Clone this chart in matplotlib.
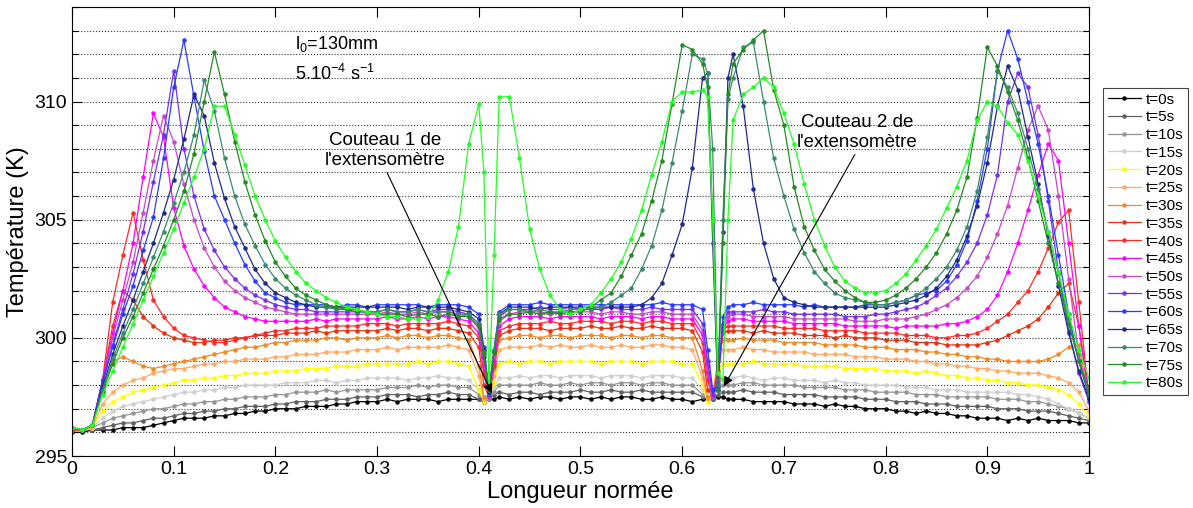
import numpy as np
import matplotlib
matplotlib.use('Agg')
import matplotlib.pyplot as plt
from matplotlib.ticker import MultipleLocator

plt.rcParams['font.family'] = ['Liberation Sans', 'DejaVu Sans']
plt.rcParams['mathtext.fontset'] = 'custom'
plt.rcParams['mathtext.rm'] = 'Liberation Sans'
plt.rcParams['mathtext.it'] = 'Liberation Sans:italic'
plt.rcParams['mathtext.default'] = 'regular'

# sampling positions along the normalised length (finer near the two knives)
x_norm = np.concatenate([
    np.round(np.arange(0, 40) * 0.01, 3),
    [0.400, 0.405, 0.410, 0.415],
    np.round(np.arange(42, 62) * 0.01, 3),
    [0.620, 0.625, 0.630, 0.635, 0.640, 0.645],
    np.round(np.arange(65, 101) * 0.01, 3),
])

labels = ['t=0s', 't=5s', 't=10s', 't=15s', 't=20s', 't=25s', 't=30s', 't=35s',
          't=40s', 't=45s', 't=50s', 't=55s', 't=60s', 't=65s', 't=70s',
          't=75s', 't=80s']
colors = ['#000000', '#606060', '#969696', '#cfcfcf', '#ffff00', '#ffaa66',
          '#f08a24', '#e63212', '#ff2a2a', '#ff00ff', '#c848c8', '#7a2ef0',
          '#2a3cff', '#1f2b8a', '#3c8a6c', '#268a26', '#22ff22']

t00 = [296.0, 296.0, 296.1, 296.1, 296.1, 296.2, 296.2, 296.2, 296.3, 296.4,
       296.5, 296.6, 296.6, 296.6, 296.7, 296.7, 296.8, 296.8, 296.9, 296.9,
       297.0, 297.0, 297.0, 297.1, 297.1, 297.1, 297.2, 297.2, 297.3, 297.3,
       297.3, 297.4, 297.3, 297.4, 297.4, 297.4, 297.3, 297.4, 297.4, 297.4,
       297.4, 297.3, 297.4, 297.4,
       297.5, 297.4, 297.5, 297.4, 297.5, 297.5, 297.4, 297.5, 297.5, 297.4,
       297.5, 297.4, 297.5, 297.5, 297.4, 297.4, 297.5, 297.4, 297.4, 297.3,
       297.4, 297.4, 297.4, 297.5, 297.5, 297.4,
       297.4, 297.4, 297.3, 297.3, 297.3, 297.3, 297.2, 297.2, 297.2, 297.1,
       297.2, 297.1, 297.1, 297.0, 297.0, 297.0, 296.9, 296.9, 296.8, 296.9,
       296.8, 296.8, 296.7, 296.7, 296.6, 296.6, 296.6, 296.5, 296.6, 296.5,
       296.6, 296.5, 296.5, 296.5, 296.4, 296.4]

t05 = [296.1, 296.1, 296.1, 296.2, 296.3, 296.4, 296.4, 296.5, 296.6, 296.6,
       296.7, 296.8, 296.8, 296.9, 296.9, 297.0, 297.0, 297.1, 297.1, 297.1,
       297.2, 297.2, 297.3, 297.3, 297.3, 297.4, 297.4, 297.4, 297.5, 297.5,
       297.5, 297.6, 297.6, 297.6, 297.5, 297.6, 297.6, 297.7, 297.6, 297.6,
       297.4, 297.3, 297.4, 297.6,
       297.7, 297.6, 297.7, 297.7, 297.6, 297.7, 297.7, 297.7, 297.8, 297.7,
       297.7, 297.8, 297.7, 297.7, 297.8, 297.7, 297.7, 297.7, 297.7, 297.7,
       297.5, 297.4, 297.4, 297.6, 297.7, 297.7,
       297.7, 297.8, 297.7, 297.7, 297.7, 297.6, 297.6, 297.6, 297.6, 297.5,
       297.5, 297.5, 297.5, 297.4, 297.4, 297.4, 297.3, 297.3, 297.3, 297.2,
       297.2, 297.2, 297.1, 297.1, 297.1, 297.1, 297.0, 297.0, 297.0, 296.9,
       296.9, 296.9, 296.8, 296.7, 296.6, 296.5]

t10 = [296.1, 296.1, 296.2, 296.4, 296.6, 296.7, 296.8, 296.9, 297.0, 297.0,
       297.1, 297.2, 297.2, 297.3, 297.3, 297.4, 297.4, 297.5, 297.5, 297.5,
       297.6, 297.6, 297.7, 297.7, 297.7, 297.8, 297.7, 297.8, 297.8, 297.8,
       297.8, 297.9, 297.9, 297.9, 298.0, 297.9, 298.0, 298.0, 297.9, 297.9,
       297.6, 297.4, 297.4, 297.7,
       298.0, 298.0, 298.0, 298.0, 298.1, 298.0, 298.0, 298.1, 298.0, 298.1,
       298.1, 298.0, 298.1, 298.1, 298.0, 298.1, 298.1, 298.0, 298.0, 298.0,
       297.6, 297.4, 297.5, 297.8, 298.0, 298.0,
       298.0, 298.1, 298.1, 298.0, 298.0, 298.0, 298.0, 297.9, 297.9, 297.9,
       297.9, 297.8, 297.8, 297.8, 297.7, 297.7, 297.7, 297.7, 297.6, 297.6,
       297.6, 297.5, 297.5, 297.5, 297.5, 297.5, 297.4, 297.4, 297.4, 297.3,
       297.3, 297.2, 297.1, 297.0, 296.8, 296.6]

t15 = [296.1, 296.1, 296.2, 296.6, 296.9, 297.1, 297.2, 297.3, 297.4, 297.5,
       297.6, 297.7, 297.7, 297.8, 297.8, 297.9, 297.9, 298.0, 298.0, 298.0,
       298.0, 298.1, 298.1, 298.1, 298.2, 298.2, 298.1, 298.2, 298.2, 298.3,
       298.3, 298.3, 298.3, 298.2, 298.3, 298.3, 298.4, 298.3, 298.3, 298.2,
       297.8, 297.4, 297.5, 297.9,
       298.3, 298.3, 298.4, 298.3, 298.4, 298.4, 298.3, 298.4, 298.4, 298.4,
       298.3, 298.4, 298.4, 298.4, 298.3, 298.4, 298.4, 298.4, 298.3, 298.3,
       297.8, 297.4, 297.5, 298.0, 298.3, 298.3,
       298.3, 298.4, 298.3, 298.2, 298.3, 298.3, 298.2, 298.2, 298.2, 298.1,
       298.2, 298.1, 298.1, 298.0, 298.0, 298.0, 298.0, 297.9, 297.9, 297.9,
       297.8, 297.8, 297.8, 297.7, 297.7, 297.7, 297.7, 297.7, 297.6, 297.6,
       297.5, 297.4, 297.2, 297.0, 296.8, 296.6]

t20 = [296.1, 296.1, 296.2, 296.9, 297.3, 297.5, 297.7, 297.8, 297.9, 298.0,
       298.1, 298.2, 298.2, 298.3, 298.3, 298.4, 298.4, 298.5, 298.5, 298.5,
       298.6, 298.6, 298.6, 298.7, 298.7, 298.7, 298.8, 298.8, 298.8, 298.9,
       298.9, 298.9, 298.9, 298.9, 299.0, 298.9, 299.0, 299.0, 298.9, 298.8,
       297.8, 297.3, 297.5, 298.1,
       298.9, 299.0, 298.9, 299.0, 299.0, 298.9, 299.0, 299.0, 299.0, 299.0,
       298.9, 299.0, 299.0, 299.0, 298.9, 299.0, 299.0, 299.0, 298.9, 298.9,
       298.0, 297.3, 297.6, 298.4, 298.9, 298.9,
       298.9, 298.9, 299.0, 298.9, 298.9, 298.9, 298.9, 298.8, 298.8, 298.8,
       298.8, 298.7, 298.7, 298.7, 298.7, 298.6, 298.6, 298.6, 298.5, 298.6,
       298.5, 298.4, 298.4, 298.3, 298.3, 298.2, 298.2, 298.1, 298.1, 298.0,
       298.0, 297.9, 297.8, 297.6, 297.2, 296.7]

t25 = [296.1, 296.1, 296.2, 297.2, 297.7, 298.0, 298.2, 298.3, 298.5, 298.6,
       298.7, 298.7, 298.8, 298.9, 298.9, 299.0, 299.0, 299.1, 299.1, 299.1,
       299.2, 299.2, 299.3, 299.3, 299.3, 299.4, 299.4, 299.4, 299.5, 299.5,
       299.5, 299.6, 299.5, 299.6, 299.6, 299.6, 299.6, 299.7, 299.6, 299.5,
       298.4, 297.4, 297.5, 298.4,
       299.5, 299.6, 299.6, 299.6, 299.7, 299.6, 299.7, 299.6, 299.6, 299.7,
       299.6, 299.6, 299.7, 299.6, 299.6, 299.7, 299.7, 299.6, 299.6, 299.5,
       298.3, 297.4, 297.6, 298.8, 299.5, 299.5,
       299.5, 299.6, 299.5, 299.5, 299.4, 299.4, 299.4, 299.4, 299.3, 299.3,
       299.3, 299.3, 299.2, 299.2, 299.2, 299.1, 299.1, 299.1, 299.0, 299.0,
       298.9, 298.9, 298.8, 298.8, 298.7, 298.7, 298.6, 298.6, 298.5, 298.5,
       298.5, 298.4, 298.3, 298.1, 297.7, 296.9]

t30 = [296.1, 296.1, 296.3, 297.9, 299.0, 299.2, 299.0, 298.8, 298.7, 298.8,
       298.9, 299.0, 299.1, 299.2, 299.3, 299.4, 299.5, 299.6, 299.6, 299.7,
       299.8, 299.8, 299.9, 299.9, 299.9, 300.0, 300.0, 299.9, 300.0, 300.0,
       300.0, 300.1, 300.0, 300.1, 300.1, 300.0, 300.1, 300.1, 300.0, 299.9,
       298.8, 297.5, 297.6, 298.7,
       299.9, 300.0, 300.1, 300.1, 300.0, 300.1, 300.1, 300.0, 300.1, 300.1,
       300.1, 300.0, 300.1, 300.1, 300.0, 300.1, 300.1, 300.0, 300.0, 300.0,
       298.6, 297.5, 297.6, 299.0, 299.9, 299.9,
       299.9, 300.0, 299.9, 299.9, 299.9, 299.8, 299.8, 299.8, 299.8, 299.7,
       299.7, 299.7, 299.7, 299.6, 299.6, 299.6, 299.5, 299.5, 299.5, 299.4,
       299.4, 299.3, 299.3, 299.2, 299.2, 299.1, 299.1, 299.0, 299.0, 299.0,
       299.0, 299.1, 299.3, 299.6, 299.7, 297.4]

t35 = [296.1, 296.1, 296.3, 298.2, 300.5, 302.0, 301.6, 300.9, 300.5, 300.2,
       300.0, 299.9, 299.8, 299.8, 299.9, 299.9, 300.0, 300.0, 300.1, 300.1,
       300.1, 300.2, 300.2, 300.2, 300.3, 300.2, 300.3, 300.3, 300.3, 300.3,
       300.3, 300.4, 300.3, 300.4, 300.4, 300.3, 300.4, 300.4, 300.3, 300.2,
       299.6, 298.0, 297.5, 298.8,
       300.1, 300.3, 300.4, 300.4, 300.4, 300.3, 300.4, 300.4, 300.4, 300.5,
       300.4, 300.4, 300.5, 300.4, 300.4, 300.5, 300.4, 300.4, 300.4, 300.3,
       299.4, 297.8, 297.5, 298.6, 300.2, 300.3,
       300.3, 300.3, 300.2, 300.3, 300.2, 300.2, 300.2, 300.1, 300.1, 300.1,
       300.0, 300.1, 300.0, 300.0, 300.0, 299.9, 299.9, 299.9, 299.8, 299.8,
       299.8, 299.7, 299.7, 299.7, 299.7, 299.8, 299.9, 300.1, 300.3, 300.5,
       300.8, 301.3, 301.9, 302.3, 300.5, 297.5]

t40 = [296.1, 296.1, 296.3, 298.2, 301.5, 303.5, 305.3, 303.3, 301.6, 300.9,
       300.4, 300.1, 300.0, 299.9, 299.8, 299.8, 299.9, 300.0, 300.1, 300.2,
       300.3, 300.3, 300.4, 300.4, 300.4, 300.5, 300.5, 300.5, 300.5, 300.6,
       300.6, 300.6, 300.5, 300.6, 300.6, 300.6, 300.6, 300.7, 300.6, 300.5,
       300.0, 298.5, 297.5, 298.9,
       300.3, 300.5, 300.6, 300.6, 300.6, 300.7, 300.6, 300.6, 300.7, 300.7,
       300.7, 300.6, 300.7, 300.7, 300.6, 300.7, 300.7, 300.6, 300.6, 300.6,
       299.8, 298.2, 297.5, 298.4, 300.3, 300.5,
       300.5, 300.5, 300.5, 300.5, 300.5, 300.4, 300.4, 300.4, 300.4, 300.3,
       300.3, 300.3, 300.3, 300.2, 300.2, 300.2, 300.2, 300.1, 300.1, 300.1,
       300.0, 300.0, 300.1, 300.1, 300.2, 300.4, 300.7, 301.0, 301.5, 302.0,
       302.8, 303.8, 304.9, 305.4, 301.5, 297.5]

t45 = [296.2, 296.1, 296.3, 298.2, 300.2, 302.0, 304.0, 306.8, 309.5, 308.5,
       305.5, 303.9, 302.9, 302.2, 301.7, 301.3, 301.1, 300.9, 300.8, 300.7,
       300.7, 300.7, 300.7, 300.7, 300.8, 300.7, 300.8, 300.8, 300.8, 300.8,
       300.8, 300.9, 300.8, 300.8, 300.9, 300.8, 300.9, 300.9, 300.8, 300.7,
       300.2, 298.8, 297.5, 299.0,
       300.5, 300.8, 300.9, 300.9, 300.9, 300.8, 300.9, 300.9, 300.9, 300.9,
       300.8, 300.9, 300.9, 300.9, 300.8, 300.9, 300.9, 300.8, 300.8, 300.8,
       300.1, 298.5, 297.5, 298.3, 300.4, 300.7,
       300.8, 300.8, 300.7, 300.7, 300.7, 300.7, 300.6, 300.6, 300.6, 300.6,
       300.6, 300.5, 300.5, 300.5, 300.5, 300.5, 300.4, 300.5, 300.5, 300.5,
       300.5, 300.6, 300.6, 300.7, 300.9, 301.2, 301.8, 302.8, 304.0, 305.4,
       306.9, 308.2, 307.5, 304.0, 300.5, 297.5]

t50 = [296.2, 296.1, 296.3, 298.1, 300.0, 301.6, 303.2, 305.3, 307.5, 309.4,
       308.3, 306.5, 305.0, 303.8, 303.0, 302.4, 302.0, 301.7, 301.5, 301.3,
       301.2, 301.1, 301.0, 301.0, 301.0, 301.0, 301.0, 301.0, 301.0, 301.0,
       301.0, 301.1, 301.0, 301.0, 301.1, 301.0, 301.1, 301.1, 301.0, 300.9,
       300.4, 299.0, 297.5, 299.2,
       300.7, 301.0, 301.1, 301.1, 301.1, 301.0, 301.1, 301.1, 301.1, 301.1,
       301.0, 301.1, 301.1, 301.0, 301.0, 301.1, 301.1, 301.0, 301.0, 301.0,
       300.3, 298.8, 297.5, 298.2, 300.5, 300.9,
       301.0, 301.0, 300.9, 300.9, 300.9, 300.9, 300.8, 300.8, 300.8, 300.8,
       300.8, 300.8, 300.7, 300.7, 300.7, 300.8, 300.8, 300.8, 300.9, 301.0,
       301.2, 301.4, 301.7, 302.1, 302.6, 303.4, 304.4, 305.6, 307.2, 308.8,
       309.8, 308.8, 306.0, 302.5, 299.3, 297.5]

t55 = [296.2, 296.1, 296.3, 298.0, 299.7, 301.2, 302.7, 304.5, 306.6, 308.6,
       311.3, 308.0, 306.0, 304.6, 303.7, 303.0, 302.5, 302.1, 301.8, 301.6,
       301.4, 301.3, 301.2, 301.2, 301.1, 301.1, 301.1, 301.1, 301.1, 301.1,
       301.1, 301.2, 301.1, 301.1, 301.2, 301.1, 301.2, 301.2, 301.1, 301.0,
       300.6, 299.2, 297.6, 299.4,
       300.9, 301.2, 301.2, 301.2, 301.3, 301.2, 301.2, 301.3, 301.2, 301.2,
       301.2, 301.3, 301.2, 301.2, 301.2, 301.3, 301.2, 301.2, 301.2, 301.2,
       300.6, 299.0, 297.6, 298.1, 300.6, 301.1,
       301.1, 301.1, 301.1, 301.2, 301.1, 301.1, 301.0, 301.0, 301.0, 301.0,
       301.0, 300.9, 300.9, 300.9, 301.0, 301.0, 301.1, 301.2, 301.3, 301.5,
       301.8, 302.1, 302.6, 303.2, 304.0, 305.2, 306.9, 310.0, 311.2, 310.6,
       308.6, 305.8, 302.8, 300.3, 298.5, 297.3]

t60 = [296.2, 296.1, 296.3, 298.2, 299.6, 301.0, 302.2, 303.7, 305.1, 307.6,
       310.6, 312.6, 310.2, 307.9, 306.0, 305.0, 304.0, 303.1, 302.4, 301.9,
       301.7, 301.5, 301.4, 301.4, 301.4, 301.4, 301.3, 301.4, 301.4, 301.3,
       301.4, 301.4, 301.4, 301.4, 301.4, 301.3, 301.4, 301.4, 301.4, 301.3,
       301.0, 299.6, 297.7, 299.5,
       301.1, 301.4, 301.4, 301.4, 301.5, 301.4, 301.4, 301.4, 301.4, 301.4,
       301.4, 301.4, 301.4, 301.4, 301.4, 301.4, 301.5, 301.4, 301.4, 301.4,
       301.2, 299.5, 297.8, 297.9, 300.9, 301.3,
       301.4, 301.4, 301.5, 301.4, 301.4, 301.4, 301.4, 301.3, 301.4, 301.3,
       301.3, 301.3, 301.3, 301.4, 301.4, 301.4, 301.5, 301.6, 301.8, 301.9,
       302.0, 302.4, 303.1, 304.1, 305.8, 308.0, 311.3, 313.0, 311.8, 310.0,
       308.2, 306.0, 303.5, 301.0, 299.0, 297.5]

t65 = [296.2, 296.1, 296.3, 297.9, 299.3, 300.5, 301.6, 302.8, 304.0, 305.3,
       306.7, 308.4, 310.3, 309.4, 307.4, 305.9, 304.7, 303.8, 302.9, 302.3,
       301.9, 301.7, 301.5, 301.4, 301.3, 301.3, 301.3, 301.3, 301.3, 301.3,
       301.3, 301.3, 301.3, 301.2, 301.3, 301.3, 301.3, 301.3, 301.2, 301.1,
       300.8, 299.5, 297.7, 299.4,
       301.0, 301.3, 301.3, 301.3, 301.2, 301.3, 301.3, 301.3, 301.3, 301.3,
       301.3, 301.3, 301.3, 301.3, 301.4, 301.7, 302.3, 303.5, 304.8, 307.2,
       311.0, 311.2, 304.0, 297.8, 304.5, 311.0,
       312.0, 309.8, 306.3, 304.0, 302.5, 301.7, 301.5, 301.4, 301.3, 301.3,
       301.3, 301.3, 301.3, 301.3, 301.3, 301.3, 301.4, 301.5, 301.6, 301.8,
       302.1, 302.6, 303.3, 304.3, 305.6, 307.4, 309.8, 311.5, 310.5, 308.5,
       306.5, 304.3, 302.2, 300.2, 298.6, 297.4]

t70 = [296.2, 296.1, 296.3, 297.8, 299.1, 300.2, 301.2, 302.3, 303.4, 304.5,
       305.7, 307.0, 308.6, 310.9, 309.6, 307.6, 306.0, 304.8, 303.9, 303.1,
       302.5, 302.1, 301.8, 301.6, 301.4, 301.3, 301.2, 301.2, 301.2, 301.1,
       301.1, 301.2, 301.1, 301.1, 301.2, 301.1, 301.1, 301.1, 301.0, 301.0,
       300.6, 299.4, 297.8, 299.5,
       301.0, 301.2, 301.2, 301.1, 301.2, 301.1, 301.1, 301.2, 301.2, 301.2,
       301.3, 301.5, 301.8, 302.1, 302.9, 303.9, 305.4, 307.4, 309.6, 312.0,
       311.8, 311.2, 308.0, 298.0, 305.0, 310.1,
       311.0, 312.3, 312.5, 310.0, 307.6, 306.0, 304.6, 303.6, 302.8, 302.3,
       301.9, 301.7, 301.6, 301.5, 301.4, 301.4, 301.5, 301.6, 301.8, 302.1,
       302.5, 303.0, 303.7, 304.7, 306.2, 308.5, 311.3, 310.6, 309.5, 308.0,
       306.3, 304.5, 302.7, 300.8, 299.0, 297.6]

t75 = [296.2, 296.1, 296.3, 297.7, 298.9, 300.0, 300.9, 301.9, 302.9, 303.9,
       305.0, 306.2, 307.8, 310.0, 312.1, 310.3, 308.3, 306.6, 305.2, 304.1,
       303.2, 302.6, 302.1, 301.8, 301.6, 301.4, 301.3, 301.2, 301.1, 301.1,
       301.0, 301.0, 301.0, 300.9, 301.0, 301.0, 300.9, 301.0, 300.9, 300.9,
       300.5, 299.3, 297.8, 299.4,
       300.8, 301.0, 301.0, 301.1, 301.0, 301.1, 301.0, 301.1, 301.1, 301.3,
       301.6, 301.9, 302.6, 303.5, 304.4, 305.8, 307.5, 309.9, 312.4, 312.2,
       311.6, 310.6, 305.0, 297.8, 304.0, 310.3,
       311.6, 312.2, 312.6, 313.0, 310.5, 309.0, 306.4, 304.7, 303.7, 302.9,
       302.4, 302.0, 301.7, 301.5, 301.5, 301.6, 301.8, 302.1, 302.5, 303.0,
       303.6, 304.4, 305.4, 306.8, 309.3, 312.3, 311.5, 310.4, 309.2, 307.6,
       305.8, 304.0, 302.3, 300.6, 299.0, 297.8]

t80 = [296.2, 296.1, 296.3, 297.6, 298.6, 299.6, 300.6, 301.6, 302.6, 303.6,
       304.6, 305.7, 306.8, 308.0, 309.8, 309.8, 308.6, 307.3, 306.0, 305.0,
       304.1, 303.4, 302.8, 302.3, 302.0, 301.7, 301.5, 301.3, 301.2, 301.1,
       301.0, 300.9, 300.9, 300.8, 300.8, 300.9, 301.6, 302.8, 304.7, 308.2,
       309.9, 307.0, 298.0, 303.5,
       310.2, 310.2, 307.6, 304.6, 302.9, 301.8, 301.2, 301.0, 301.2, 301.4,
       301.9, 302.5, 303.2, 304.2, 305.4, 306.9, 308.3, 310.0, 310.4, 310.4,
       310.5, 310.2, 305.0, 298.5, 298.2, 305.0,
       309.2, 310.3, 310.6, 311.0, 310.6, 309.5, 308.2, 306.5, 305.0, 303.9,
       303.0, 302.4, 302.1, 301.9, 301.9, 302.0, 302.3, 302.7, 303.3, 303.9,
       304.6, 305.5, 306.4, 307.5, 309.2, 310.0, 309.8, 309.1, 308.6, 307.5,
       306.0, 304.5, 302.8, 301.0, 299.5, 298.3]

series = [t00, t05, t10, t15, t20, t25, t30, t35, t40, t45, t50, t55, t60,
          t65, t70, t75, t80]

xtick_vals = [0, 0.1, 0.2, 0.3, 0.4, 0.5, 0.6, 0.7, 0.8, 0.9, 1]
xtick_labels = ['0', '0.1', '0.2', '0.3', '0.4', '0.5', '0.6', '0.7', '0.8', '0.9', '1']
ytick_vals = [295, 300, 305, 310]

fig = plt.figure(figsize=(11.93, 5.08), dpi=100)
ax = fig.add_axes([0.06035, 0.10236, 0.85247, 0.88386])

for yv, c, lab in zip(series, colors, labels):
    ax.plot(x_norm, yv, '-', color=c, lw=0.9, marker='.', ms=4.5, label=lab)

ax.set_xlim(0, 1)
ax.set_ylim(295, 314)
ax.set_xticks(xtick_vals)
ax.set_xticklabels(xtick_labels)
ax.set_yticks(ytick_vals)
ax.yaxis.set_minor_locator(MultipleLocator(1))
ax.tick_params(which='both', direction='in', top=True, right=True)
ax.tick_params(which='major', labelsize=14, length=7, width=0.8)
ax.tick_params(which='minor', length=4, width=0.8)
ax.grid(axis='y', which='both', linestyle=':', color='#333333', lw=0.8)
ax.set_axisbelow(True)
for s in ax.spines.values():
    s.set_linewidth(0.8)

ax.set_xlabel('Longueur normée', fontsize=17, labelpad=2)
ax.set_ylabel('Température (K)', fontsize=17, labelpad=4)

ax.text(0.219, 312.45, 'l$_0$=130mm', fontsize=13, ha='left', va='center')
ax.text(0.219, 311.15, '5.10$^{-4}$ s$^{-1}$', fontsize=13, ha='left', va='center')

arrow_kw = dict(arrowstyle='-|>', color='black', lw=0.8, mutation_scale=14,
                shrinkA=1, shrinkB=0, relpos=(0.5, 0.0))
ax.annotate("Couteau 1 de\nl'extensomètre", xy=(0.413, 297.65), xytext=(0.308, 307.93),
            fontsize=13.5, ha='center', va='center', arrowprops=arrow_kw)
ax.annotate("Couteau 2 de\nl'extensomètre", xy=(0.641, 297.95), xytext=(0.772, 308.7),
            fontsize=13.5, ha='center', va='center', arrowprops=arrow_kw)

leg = ax.legend(loc='upper left', bbox_to_anchor=(1103 / 1193, 1 - 88 / 508),
                bbox_transform=fig.transFigure, borderaxespad=0, fontsize=11,
                handlelength=2.2, handletextpad=0.3, labelspacing=0.245,
                borderpad=0.3, fancybox=False, framealpha=1, edgecolor='#444444')
leg.get_frame().set_linewidth(0.8)

fig.savefig('out.png', dpi=100)
